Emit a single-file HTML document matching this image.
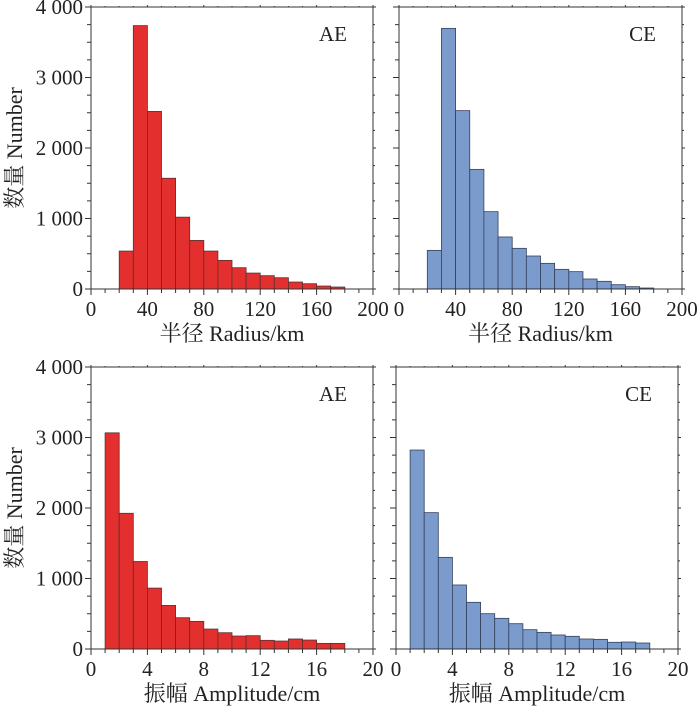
<!DOCTYPE html>
<html><head><meta charset="utf-8"><style>
html,body{margin:0;padding:0;background:#fff;}
svg text{font-family:"Liberation Serif","Noto Serif CJK SC",serif;fill:#222;}
</style></head><body>
<svg id="chart" width="700" height="707" viewBox="0 0 700 707" xmlns="http://www.w3.org/2000/svg"></svg>
<script>
const radiusBins = [20,30,40,50,60,70,80,90,100,110,120,130,140,150,160,170];
const radiusAE = [538,3736,2519,1571,1019,689,538,406,302,226,189,160,99,75,42,28];
const radiusCE = [548,3697,2530,1697,1097,738,577,468,364,279,246,142,109,61,33,14];
const ampBins = [1,2,3,4,5,6,7,8,9,10,11,12,13,14,15,16,17];
const ampAE = [3066,1925,1241,864,618,444,392,283,231,184,189,123,113,142,127,80,80];
const ampCE = [2822,1934,1300,908,662,501,435,359,274,236,199,180,142,137,95,99,85];
const yTicks = [0,1000,2000,3000,4000];
const yTickLabels = ["0","1 000","2 000","3 000","4 000"];
const radiusTicks = [0,40,80,120,160,200];
const ampTicks = [0,4,8,12,16,20];

const svg = document.getElementById('chart');
const NS = 'http://www.w3.org/2000/svg';
function mk(tag, attrs, parent){const e=document.createElementNS(NS,tag);for(const k in attrs)e.setAttribute(k,attrs[k]);(parent||svg).appendChild(e);return e;}

const panels = [
 {name:'radius-ae', x0:91, x1:373, y0:7, y1:289, bins:radiusBins, w:10, vals:radiusAE, xmax:200, xt:radiusTicks, minor:10, fill:'#e3302e', stroke:'#5a3030', label:'AE', xlabel:'半径 Radius/km', ylab:true},
 {name:'radius-ce', x0:399, x1:682, y0:7, y1:289, bins:radiusBins, w:10, vals:radiusCE, xmax:200, xt:radiusTicks, minor:10, fill:'#7b9bcc', stroke:'#34405a', label:'CE', xlabel:'半径 Radius/km', ylab:false},
 {name:'amplitude-ae', x0:91, x1:373, y0:367, y1:649, bins:ampBins, w:1, vals:ampAE, xmax:20, xt:ampTicks, minor:1, fill:'#e3302e', stroke:'#5a3030', label:'AE', xlabel:'振幅 Amplitude/cm', ylab:true},
 {name:'amplitude-ce', x0:396, x1:678, y0:367, y1:649, bins:ampBins, w:1, vals:ampCE, xmax:20, xt:ampTicks, minor:1, fill:'#7b9bcc', stroke:'#34405a', label:'CE', xlabel:'振幅 Amplitude/cm', ylab:false}
];

panels.forEach(p=>{
  const g = mk('g',{});
  
  
  const xs = v => p.x0 + v/p.xmax*(p.x1-p.x0);
  const ys = v => p.y1 - v/4000*(p.y1-p.y0);
  p.vals.forEach((v,i)=>{
    const b = mk('rect',{x:xs(p.bins[i]), y:ys(v), width:xs(p.bins[i]+p.w)-xs(p.bins[i]), height:p.y1-ys(v), fill:p.fill, stroke:p.stroke, 'stroke-width':0.8}, g);
    
    
  });
  const f = mk('rect',{x:p.x0, y:p.y0, width:p.x1-p.x0, height:p.y1-p.y0, fill:'none', stroke:'#333', 'stroke-width':1}, g);
  
  
  for(let v=0; v<=4000; v+=250){
    const y=ys(v), major = v%1000===0, L = major?6:4;
    mk('line',{x1:p.x0-L,x2:p.x0,y1:y,y2:y,stroke:'#333','stroke-width':1},g);
    mk('line',{x1:p.x1,x2:p.x1+ (major?3:2),y1:y,y2:y,stroke:'#333','stroke-width':1},g);
  }
  if(p.ylab){
    yTicks.forEach((v,i)=>{
      const t = mk('text',{x:p.x0-8, y:ys(v)+7, 'text-anchor':'end', 'font-size':21}, g);
      t.textContent = yTickLabels[i];
      
      
    });
    const cy=(p.y0+p.y1)/2;
    const yl = mk('text',{x:0,y:0,'text-anchor':'middle','font-size':22,transform:`translate(22,${cy}) rotate(-90)`}, g);
    yl.textContent = '数量 Number';
    
    
  }
  for(let v=0; v<=p.xmax+1e-9; v+=p.minor){
    const x=xs(v);
    const major = p.xt.some(t=>Math.abs(t-v)<1e-6);
    mk('line',{x1:x,x2:x,y1:p.y1,y2:p.y1+(major?6:4),stroke:'#333','stroke-width':1},g);
    mk('line',{x1:x,x2:x,y1:p.y0,y2:p.y0-(major?2:1),stroke:'#333','stroke-width':1},g);
  }
  p.xt.forEach(v=>{
    const t = mk('text',{x:xs(v), y:p.y1+27, 'text-anchor':'middle', 'font-size':21}, g);
    t.textContent = String(v);
    
    
  });
  const xl = mk('text',{x:(p.x0+p.x1)/2, y:p.y1+52, 'text-anchor':'middle', 'font-size':22}, g);
  xl.textContent = p.xlabel;
  
  
  const lb = mk('text',{x:p.x1-26, y:p.y0+34, 'text-anchor':'end', 'font-size':21}, g);
  lb.textContent = p.label;
  
  
});
</script>
</body></html>
